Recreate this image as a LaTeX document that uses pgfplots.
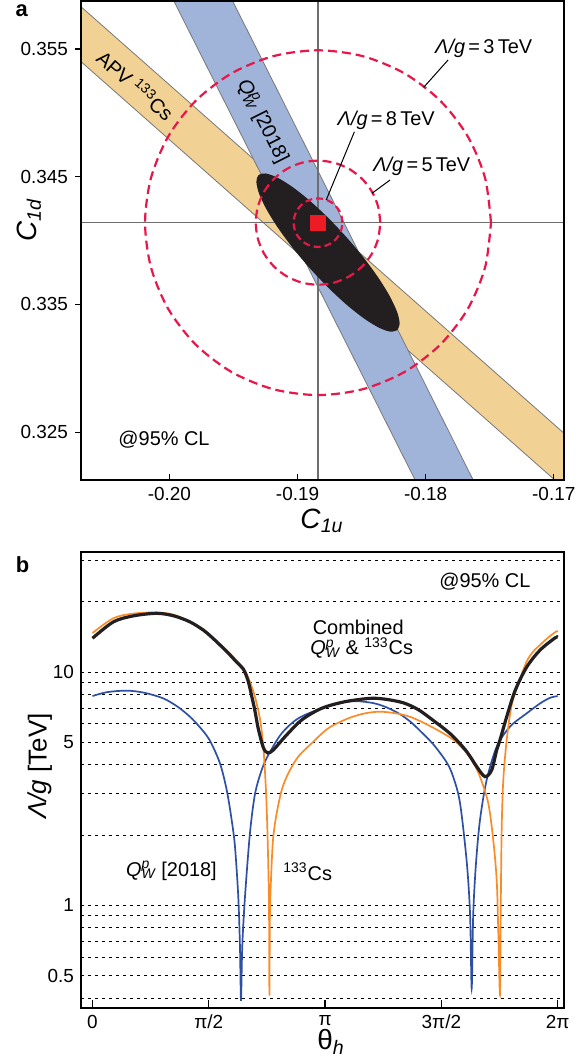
\documentclass[border=0pt]{standalone}
\usepackage{fontspec}
\setmainfont{Liberation Sans}
\usepackage{pgfplots}
\usepackage{pgfplotstable}
\pgfplotsset{compat=1.18}

\definecolor{bandorange}{RGB}{241,210,148}
\definecolor{bandblue}{RGB}{160,180,218}
\definecolor{bandedge}{RGB}{120,120,120}
\definecolor{circred}{RGB}{232,23,74}
\definecolor{sqred}{RGB}{237,28,36}
\definecolor{ellblack}{RGB}{35,31,32}
\definecolor{crossgray}{RGB}{110,110,110}
\definecolor{curveblue}{RGB}{45,80,165}
\definecolor{curveorange}{RGB}{247,140,40}

% unit circle, 15 degree steps (cos, sin)
\pgfplotstableread{
c s
1 0
0.9659 0.2588
0.8660 0.5
0.7071 0.7071
0.5 0.8660
0.2588 0.9659
0 1
-0.2588 0.9659
-0.5 0.8660
-0.7071 0.7071
-0.8660 0.5
-0.9659 0.2588
-1 0
-0.9659 -0.2588
-0.8660 -0.5
-0.7071 -0.7071
-0.5 -0.8660
-0.2588 -0.9659
0 -1
0.2588 -0.9659
0.5 -0.8660
0.7071 -0.7071
0.8660 -0.5
0.9659 -0.2588
1 0
}\unitcircle

% panel b: Lambda/g [TeV] vs theta_h
\pgfplotstableread{
t v
0.000 7.89
0.200 8.20
0.462 8.32
0.700 8.15
0.956 7.71
1.150 7.10
1.317 6.43
1.450 5.80
1.583 5.10
1.722 4.06
1.813 3.12
1.880 2.32
1.925 1.78
1.969 1.09
1.992 0.665
2.006 0.39
2.023 0.665
2.060 1.09
2.127 2.04
2.195 3.00
2.285 3.80
2.375 4.41
2.556 5.46
2.780 6.33
3.096 6.99
3.366 7.40
3.569 7.50
3.800 7.35
3.974 7.05
4.153 6.60
4.300 6.10
4.424 5.60
4.603 4.90
4.784 4.10
4.873 3.55
4.964 2.75
5.054 1.55
5.100 0.92
5.122 0.44
5.143 0.92
5.180 1.51
5.234 2.32
5.324 3.44
5.460 4.78
5.639 5.83
5.865 6.65
6.050 7.35
6.180 7.75
6.283 7.89
}\qwp

\pgfplotstableread{
t v
0.000 14.7
0.281 17.0
0.550 17.8
0.867 18.0
1.100 17.6
1.317 16.4
1.500 15.2
1.632 13.95
1.800 12.5
1.902 11.6
2.000 10.7
2.083 9.8
2.181 8.1
2.262 6.3
2.307 4.79
2.343 3.12
2.366 1.91
2.384 1.0
2.390 0.41
2.397 0.924
2.420 1.50
2.442 1.97
2.488 2.48
2.556 3.12
2.645 3.68
2.780 4.34
2.961 4.95
3.185 5.74
3.455 6.33
3.681 6.65
3.883 6.76
4.100 6.65
4.288 6.43
4.500 6.0
4.738 5.46
4.900 5.05
5.054 4.5
5.150 4.05
5.234 3.56
5.346 2.74
5.413 1.91
5.460 1.28
5.481 0.784
5.504 0.413
5.514 0.924
5.527 2.10
5.549 3.44
5.595 5.11
5.662 7.2
5.774 9.3
5.865 11.1
5.950 12.2
6.044 13.05
6.150 14.0
6.247 14.8
6.283 15.0
}\cs

\pgfplotstableread{
t v
0.000 13.95
0.281 16.4
0.550 17.4
0.867 17.85
1.100 17.4
1.317 16.4
1.500 15.1
1.632 13.9
1.750 12.8
1.850 11.9
1.950 11.0
2.037 10.3
2.100 9.2
2.150 7.9
2.195 6.8
2.240 5.7
2.307 4.75
2.366 4.50
2.442 4.63
2.600 5.28
2.826 6.23
3.096 6.99
3.410 7.46
3.748 7.71
3.950 7.65
4.198 7.38
4.400 6.90
4.603 6.20
4.829 5.45
5.009 4.75
5.100 4.35
5.190 3.93
5.302 3.56
5.392 3.80
5.460 4.63
5.504 5.11
5.595 6.43
5.707 8.3
5.865 10.5
6.044 12.4
6.247 14.0
6.283 14.1
}\combined

\newcommand{\QWp}{\textit{Q}\rlap{\textsuperscript{\itshape p}}\textsubscript{\itshape W}}

\begin{document}
\begin{tikzpicture}
\useasboundingbox (0,0) rectangle (292bp,-529.5bp);
\pgfplotsset{
  every axis/.append style={
    scale only axis, width=241.5bp, anchor=north west,
    axis line style={line width=0.7bp},
    tick label style={font=\fontsize{9.5}{11}\selectfont},
    tick style={black, line width=0.6bp},
    xtick pos=bottom, ytick pos=left,
    scaled ticks=false,
  },
}

% ---------------- panel a ----------------
\begin{axis}[
    at={(40.5bp,-0.5bp)}, height=239.5bp,
    xmin=-0.2069, xmax=-0.1692, ymin=0.32125, ymax=0.35876,
    xtick={-0.20,-0.19,-0.18,-0.17}, xticklabels={-0.20,-0.19,-0.18,-0.17},
    ytick={0.325,0.335,0.345,0.355}, yticklabels={0.325,0.335,0.345,0.355},
    xtick align=inside, ytick align=outside,
    major tick length=3bp,
    axis on top,
]
% APV 133Cs band
\addplot[fill=bandorange, draw=bandedge, line width=0.4bp]
  coordinates {(-0.212,0.36283) (-0.165,0.32119) (-0.165,0.31689) (-0.212,0.35853)} -- cycle;
% Q_W^p band
\addplot[fill=bandblue, draw=bandedge, line width=0.4bp]
  coordinates {(-0.20279,0.365) (-0.19819,0.365) (-0.17316,0.315) (-0.17768,0.315)} -- cycle;
% SM cross-hair
\addplot[crossgray, line width=0.6bp] coordinates {(-0.1884,0.30) (-0.1884,0.37)};
\addplot[crossgray, line width=0.6bp] coordinates {(-0.22,0.3414) (-0.16,0.3414)};
% combined 95% CL ellipse
\addplot[fill=ellblack, draw=none, smooth]
  table[x expr={-0.18762+0.005414*\thisrow{c}+0.001399*\thisrow{s}},
        y expr={0.33906-0.006077*\thisrow{c}+0.001252*\thisrow{s}}] {\unitcircle} -- cycle;
% Lambda/g circles
\addplot[circred, line width=1.1bp, dash pattern=on 4.5bp off 2.5bp, smooth]
  table[x expr={-0.1884+0.0135*\thisrow{c}}, y expr={0.3414+0.0135*\thisrow{s}}] {\unitcircle};
\addplot[circred, line width=1.1bp, dash pattern=on 4.5bp off 2.5bp, smooth]
  table[x expr={-0.1884+0.00486*\thisrow{c}}, y expr={0.3414+0.00486*\thisrow{s}}] {\unitcircle};
\addplot[circred, line width=1.1bp, dash pattern=on 3.5bp off 2bp, smooth]
  table[x expr={-0.1884+0.0019*\thisrow{c}}, y expr={0.3414+0.0019*\thisrow{s}}] {\unitcircle};
\addplot[only marks, mark=square*, mark size=3.75bp, color=sqred] coordinates {(-0.1884,0.3414)};
% leader lines
\addplot[black, line width=0.5bp] coordinates {(-0.17825,0.35414) (-0.18015,0.35200)};
\addplot[black, line width=0.5bp] coordinates {(-0.18556,0.34852) (-0.18776,0.34318)};
\addplot[black, line width=0.5bp] coordinates {(-0.18278,0.34474) (-0.18419,0.34370)};
\begin{scope}[every node/.style={font=\fontsize{10}{12}\selectfont}]
\node at (axis cs:-0.17547,0.35505) {\textit{Λ/g}\,=\,3\,TeV};
\node at (axis cs:-0.18308,0.34939) {\textit{Λ/g}\,=\,8\,TeV};
\node at (axis cs:-0.18030,0.34578) {\textit{Λ/g}\,=\,5\,TeV};
\node[rotate=-41.4] at (axis cs:-0.20262,0.35218) {APV \textsuperscript{133}Cs};
\node[rotate=-63.3] at (axis cs:-0.19273,0.34931) {\QWp\ [2018]};
\node at (axis cs:-0.20042,0.32438) {@95\% CL};
\end{scope}
\end{axis}

% ---------------- panel b ----------------
\begin{axis}[
    at={(40.5bp,-276bp)}, height=228bp,
    ymode=log,
    xmin=-0.1553, xmax=6.369, ymin=0.3629, ymax=32.69,
    xtick={0,1.5708,3.1416,4.7124,6.2832}, xticklabels={0,π/2,π,3π/2,2π},
    ytick={0.5,1,5,10}, yticklabels={0.5,1,5,10},
    extra y ticks={0.4,0.6,0.7,0.8,0.9,2,3,4,6,7,8,9,20,30},
    extra y tick labels={},
    extra y tick style={grid=major, tick style={draw=none}},
    ymajorgrids, yminorticks=false,
    grid style={black, line width=0.5bp, dash pattern=on 1.6bp off 1.9bp},
    ytick style={draw=none},
    xtick align=inside, major tick length=4bp,
]
\addplot[curveblue, line width=0.85bp, smooth] table[x=t, y=v] {\qwp};
\addplot[curveorange, line width=0.85bp, smooth] table[x=t, y=v] {\cs};
\addplot[ellblack, line width=1.6bp, smooth] table[x=t, y=v] {\combined};
\begin{scope}[every node/.style={font=\fontsize{10}{12}\selectfont}]
\node at (axis cs:5.30,24.4) {@95\% CL};
\node at (axis cs:3.590,15.55) {Combined};
\node at (axis cs:3.636,12.64) {\QWp\ \& \textsuperscript{133}Cs};
\node at (axis cs:1.067,1.407) {\QWp\ [2018]};
\node at (axis cs:2.907,1.392) {\textsuperscript{133}Cs};
\end{scope}
\end{axis}

% outer labels
\node[font=\bfseries\fontsize{11}{13}\selectfont] at (10.8bp,-5.5bp) {a};
\node[font=\bfseries\fontsize{11}{13}\selectfont] at (11.25bp,-282.5bp) {b};
\node[rotate=90, font=\fontsize{14}{16}\selectfont] at (14.5bp,-110bp) {\textit{C}\textsubscript{\itshape 1d}};
\node[font=\fontsize{14}{16}\selectfont] at (161bp,-260.5bp) {\textit{C}\textsubscript{\itshape 1u}};
\node[rotate=90, font=\fontsize{13}{15}\selectfont] at (20bp,-383bp) {\textit{Λ/g} [TeV]};
\node[font=\fontsize{14}{16}\selectfont] at (165.5bp,-521bp) {θ\textsubscript{\itshape h}};
\end{tikzpicture}
\end{document}
